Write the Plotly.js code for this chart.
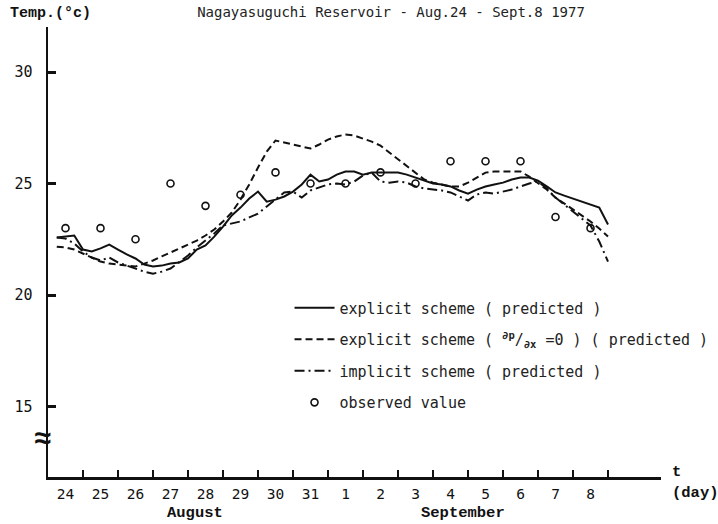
<!DOCTYPE html>
<html>
<head>
<meta charset="utf-8">
<script src="https://cdn.plot.ly/plotly-3.0.1.min.js"></script>
<style>html,body{margin:0;padding:0;background:#fff;}#chart{width:718px;height:524px;}</style>
</head>
<body>
<div id="chart"></div>
<script>
// time in days since Aug 24, 00:00
var timeDays = [0.25,0.5,0.75,1.0,1.25,1.5,1.75,2.0,2.25,2.5,2.75,3.0,3.25,3.5,3.75,4.0,
  4.25,4.5,4.75,5.0,5.25,5.5,5.75,6.0,6.25,6.5,6.75,7.0,7.25,7.5,7.75,8.0,
  8.25,8.5,8.75,9.0,9.25,9.5,9.75,10.0,10.25,10.5,10.75,11.0,11.25,11.5,11.75,12.0,
  12.25,12.5,12.75,13.0,13.25,13.5,13.75,14.0,14.25,14.5,14.75,15.0,15.25,15.5,15.75,16.0];

var explicitPred = [22.58,22.62,22.67,22.04,21.95,22.09,22.26,22.04,21.82,21.64,21.37,21.28,21.32,21.41,21.46,21.64,
  22.04,22.22,22.62,23.07,23.57,23.92,24.33,24.64,24.19,24.28,24.42,24.64,24.96,25.40,25.09,25.18,
  25.40,25.54,25.54,25.40,25.49,25.49,25.49,25.49,25.40,25.27,25.13,25.00,24.96,24.87,24.69,24.55,
  24.73,24.87,24.96,25.04,25.18,25.27,25.27,25.13,24.87,24.60,24.46,24.33,24.19,24.06,23.92,23.16];

var explicitDpdx0 = [22.17,22.13,22.04,21.86,21.68,21.50,21.41,21.37,21.32,21.28,21.41,21.55,21.73,21.91,22.09,22.26,
  22.44,22.67,22.94,23.30,23.70,24.28,24.96,25.72,26.43,26.93,26.84,26.75,26.66,26.57,26.75,26.97,
  27.11,27.20,27.15,27.02,26.88,26.70,26.39,26.08,25.81,25.49,25.18,25.04,24.96,24.87,24.87,25.04,
  25.27,25.49,25.54,25.54,25.54,25.54,25.31,25.00,24.73,24.37,24.10,23.83,23.57,23.30,22.98,22.62];

var implicitPred = [22.58,22.53,22.31,21.95,21.68,21.55,21.68,21.46,21.32,21.19,21.05,20.96,21.05,21.19,21.46,21.77,
  22.13,22.44,22.76,23.12,23.21,23.30,23.48,23.65,23.97,24.28,24.60,24.64,24.37,24.69,24.82,24.96,
  25.00,24.96,25.09,25.36,25.49,25.09,25.04,25.09,25.04,24.87,24.78,24.73,24.69,24.60,24.42,24.24,
  24.51,24.60,24.55,24.64,24.73,24.87,25.00,25.09,24.78,24.37,24.06,23.74,23.43,23.12,22.40,21.50];

// observed once a day (noon)
var obsDays = [0.5,1.5,2.5,3.5,4.5,5.5,6.5,7.5,8.5,9.5,10.5,11.5,12.5,13.5,14.5,15.5];
var observed = [23.0,23.0,22.5,25.0,24.0,24.5,25.5,25.0,25.0,25.5,25.0,26.0,26.0,26.0,23.5,23.0];

var dayLabels = ["24","25","26","27","28","29","30","31","1","2","3","4","5","6","7","8"];
var dayBoundaries = [1,2,3,4,5,6,7,8,9,10,11,12,13,14,15,16];
var yTicks = [15,20,25,30];

var mono = "DejaVu Sans Mono";
var courier = "Liberation Mono";

var labelPos = dayLabels.map(function(_, i){ return i + 0.5; });

var traces = [
  {x: timeDays, y: explicitPred, mode: 'lines', name: 'explicit scheme ( predicted )',
   line: {color: '#111', width: 2}, legendgroup: 'a', hoverinfo: 'skip'},
  {x: timeDays, y: explicitDpdx0, mode: 'lines', name: 'explicit scheme ( <sup><b>∂p</b></sup>/<sub><b>∂x</b></sub> =0 ) ( predicted )',
   line: {color: '#111', width: 2, dash: '7px,4px'}, legendgroup: 'b', hoverinfo: 'skip'},
  {x: timeDays, y: implicitPred, mode: 'lines', name: 'implicit scheme ( predicted )',
   line: {color: '#111', width: 2, dash: '10px,4px,2px,4px'}, legendgroup: 'c', hoverinfo: 'skip'},
  {x: obsDays, y: observed, mode: 'markers', name: 'observed value',
   marker: {symbol: 'circle-open', size: 7, color: '#111', line: {width: 1.6, color: '#111'}},
   legendgroup: 'd', hoverinfo: 'skip'},
  {x: labelPos, y: observed.map(function(){return null;}), xaxis: 'x2', mode: 'markers',
   showlegend: false, hoverinfo: 'skip'}
];

var xr = [0, 17.514];
var layout = {
  width: 718, height: 524,
  margin: {l: 48, r: 57, t: 27, b: 47, pad: 0, autoexpand: false},
  paper_bgcolor: '#fff', plot_bgcolor: '#fff',
  font: {family: mono, color: '#111', size: 14},
  title: {text: 'Nagayasuguchi Reservoir - Aug.24 - Sept.8 1977',
          xref: 'container', yref: 'container', x: 0.5446, xanchor: 'center',
          y: 0.977, yanchor: 'middle', font: {family: mono, size: 14, color: '#222'}},
  xaxis: {range: xr, showline: true, linewidth: 2.5, linecolor: '#111',
          ticks: 'inside', tickvals: dayBoundaries, ticklen: 7, tickwidth: 2, tickcolor: '#111',
          showticklabels: false, showgrid: false, zeroline: false, fixedrange: true, automargin: false},
  xaxis2: {range: xr, overlaying: 'x', anchor: 'y', side: 'bottom',
           tickvals: labelPos, ticktext: dayLabels, ticks: '', showline: false,
           showgrid: false, zeroline: false, ticklabelstandoff: 6, automargin: false,
           tickfont: {family: mono, size: 14.5, color: '#111'}},
  yaxis: {range: [11.84, 32.02], showline: true, linewidth: 2.5, linecolor: '#111',
          ticks: 'inside', tickvals: yTicks, ticklen: 8, tickwidth: 3, tickcolor: '#111',
          ticklabelstandoff: 10, automargin: false,
          tickfont: {family: mono, size: 15, color: '#111'},
          showgrid: false, zeroline: false},
  showlegend: true,
  legend: {x: 0.394, y: 0.412, xanchor: 'left', yanchor: 'top', bgcolor: 'rgba(0,0,0,0)',
           font: {family: mono, size: 15, color: '#222'}, tracegroupgap: 9, itemwidth: 40},
  annotations: [
    {text: 'Temp.(°c)', xref: 'paper', yref: 'paper', x: -0.0653, y: 1.031,
     xanchor: 'left', yanchor: 'middle', showarrow: false,
     font: {family: courier, size: 15, color: '#111', weight: 'bold'}},
    {text: 'August', xref: 'x', yref: 'paper', x: 4.2, y: -0.08, xanchor: 'center', yanchor: 'middle',
     showarrow: false, font: {family: courier, size: 15.5, color: '#111', weight: 'bold'}},
    {text: 'September', xref: 'x', yref: 'paper', x: 11.85, y: -0.08, xanchor: 'center', yanchor: 'middle',
     showarrow: false, font: {family: courier, size: 15.5, color: '#111', weight: 'bold'}},
    {text: 't', xref: 'paper', yref: 'paper', x: 1.0245, y: 0.011, xanchor: 'center', yanchor: 'middle',
     showarrow: false, font: {family: courier, size: 15.5, color: '#111', weight: 'bold'}},
    {text: '(day)', xref: 'paper', yref: 'paper', x: 1.0555, y: -0.0356, xanchor: 'center', yanchor: 'middle',
     showarrow: false, font: {family: courier, size: 15.5, color: '#111', weight: 'bold'}},
    {text: '≈', xref: 'paper', yref: 'paper', x: -0.008, y: 0.082, xanchor: 'center', yanchor: 'middle',
     showarrow: false, font: {family: courier, size: 30, color: '#111', weight: 'bold'}}
  ]
};

Plotly.newPlot('chart', traces, layout, {staticPlot: true, displayModeBar: false});
</script>
</body>
</html>
